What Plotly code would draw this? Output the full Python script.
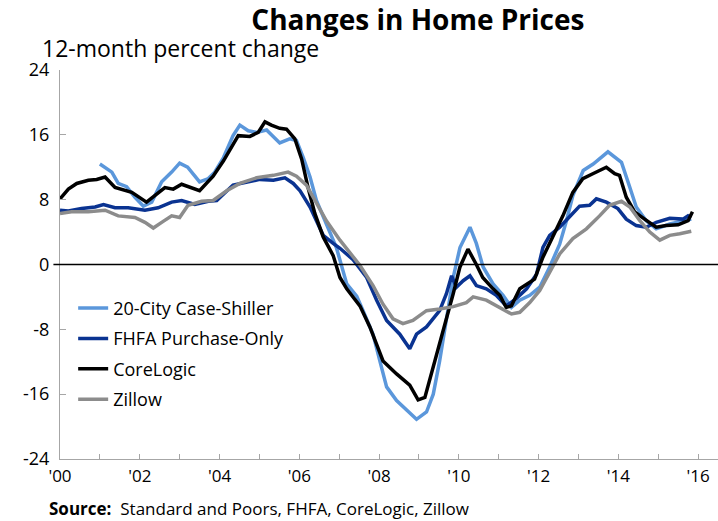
import plotly.graph_objects as go

# ---- data ----
cs_x = [2001.0, 2001.3, 2001.46, 2001.67, 2001.88, 2002.09, 2002.3, 2002.55, 2002.8, 2003.0, 2003.2, 2003.5,
        2003.72, 2003.88, 2004.1, 2004.34, 2004.51, 2004.72, 2004.93, 2005.18, 2005.51, 2005.76, 2005.93,
        2006.1, 2006.27, 2006.43, 2006.68, 2006.93, 2007.19, 2007.44, 2007.6, 2007.85, 2008.02, 2008.19,
        2008.44, 2008.69, 2008.94, 2009.19, 2009.36, 2009.52, 2009.69, 2009.86, 2010.03, 2010.28, 2010.44,
        2010.61, 2010.86, 2011.11, 2011.32, 2011.53, 2011.78, 2012.03, 2012.28, 2012.53, 2012.7, 2012.86,
        2013.12, 2013.37, 2013.74, 2014.08, 2014.29, 2014.45, 2014.7, 2014.95, 2015.29, 2015.71, 2015.83]
cs_y = [12.4, 11.4, 10.0, 9.6, 8.3, 7.2, 7.7, 10.2, 11.4, 12.5, 12.0, 10.2,
        10.6, 11.4, 13.2, 15.9, 17.2, 16.5, 16.3, 16.6, 15.0, 15.5, 15.3,
        13.2, 10.8, 7.9, 5.0, 2.1, -2.4, -3.9, -5.7, -8.6, -11.9, -15.1,
        -16.8, -18.0, -19.1, -18.2, -16.0, -11.9, -6.5, -1.6, 2.1, 4.6, 2.6,
        -0.3, -2.4, -3.8, -5.3, -4.4, -3.8, -2.8, -0.3, 2.5, 5.4, 8.5,
        11.6, 12.4, 13.9, 12.6, 9.5, 7.1, 5.4, 4.4, 5.0, 5.4, 5.6]

fhfa_x = [2000.0, 2000.21, 2000.54, 2000.88, 2001.09, 2001.38, 2001.71, 2002.13, 2002.46, 2002.8, 2003.05,
          2003.38, 2003.72, 2003.93, 2004.34, 2004.68, 2005.01, 2005.35, 2005.64, 2005.85, 2006.02, 2006.27,
          2006.43, 2006.6, 2006.85, 2007.02, 2007.35, 2007.69, 2007.94, 2008.19, 2008.52, 2008.77, 2008.94,
          2009.19, 2009.52, 2009.69, 2009.82, 2009.94, 2010.11, 2010.28, 2010.44, 2010.69, 2010.94, 2011.19,
          2011.44, 2011.7, 2011.95, 2012.11, 2012.28, 2012.53, 2012.76, 2013.03, 2013.28, 2013.45, 2013.7,
          2013.99, 2014.2, 2014.45, 2014.7, 2014.95, 2015.29, 2015.62, 2015.75, 2015.83]
fhfa_y = [6.7, 6.6, 6.9, 7.1, 7.4, 7.0, 7.0, 6.7, 7.0, 7.7, 7.9,
          7.4, 7.8, 7.9, 9.8, 10.2, 10.5, 10.4, 10.7, 10.0, 9.1, 7.1,
          5.4, 3.6, 2.6, 2.0, 0.6, -1.6, -4.4, -6.9, -8.6, -10.4, -8.6,
          -7.7, -5.7, -3.6, -1.4, -2.8, -2.0, -1.4, -2.6, -3.0, -3.8, -5.1,
          -4.2, -3.0, -1.2, 2.1, 3.6, 4.6, 5.8, 7.2, 7.3, 8.1, 7.7,
          6.9, 5.6, 4.8, 4.6, 5.2, 5.7, 5.6, 6.0, 5.8]

core_x = [2000.0, 2000.21, 2000.42, 2000.71, 2000.92, 2001.13, 2001.38, 2001.8, 2002.17, 2002.38, 2002.63,
          2002.84, 2003.05, 2003.5, 2003.84, 2004.1, 2004.34, 2004.47, 2004.76, 2004.97, 2005.14, 2005.3,
          2005.51, 2005.68, 2005.89, 2006.06, 2006.22, 2006.39, 2006.6, 2006.85, 2007.02, 2007.19, 2007.52,
          2007.77, 2008.1, 2008.44, 2008.77, 2008.98, 2009.15, 2009.36, 2009.61, 2009.86, 2010.03, 2010.23,
          2010.44, 2010.6, 2010.86, 2011.03, 2011.19, 2011.32, 2011.53, 2011.7, 2011.9, 2012.11, 2012.36,
          2012.61, 2012.86, 2013.11, 2013.36, 2013.7, 2013.91, 2014.03, 2014.2, 2014.41, 2014.66, 2014.95,
          2015.2, 2015.5, 2015.75, 2015.86]
core_y = [8.1, 9.3, 10.0, 10.4, 10.5, 10.8, 9.5, 8.9, 7.7, 8.5, 9.5,
          9.3, 9.9, 9.1, 10.9, 12.8, 14.9, 15.9, 15.8, 16.3, 17.6, 17.2,
          16.8, 16.7, 15.5, 13.0, 9.5, 6.3, 3.4, 1.1, -1.6, -3.0, -5.1,
          -7.7, -11.9, -13.5, -14.9, -16.7, -16.4, -12.7, -8.1, -3.6, -0.3, 1.9,
          0.0, -1.6, -3.0, -3.8, -5.3, -5.1, -3.0, -2.4, -1.8, 0.9, 3.4,
          6.0, 8.9, 10.6, 11.2, 12.0, 11.2, 11.0, 8.3, 6.5, 5.6, 4.6,
          4.8, 4.9, 5.4, 6.5]

zil_x = [2000.0, 2000.29, 2000.71, 2001.13, 2001.46, 2001.88, 2002.13, 2002.34, 2002.55, 2002.8, 2003.0,
         2003.21, 2003.55, 2003.84, 2004.18, 2004.51, 2004.93, 2005.35, 2005.72, 2005.93, 2006.18, 2006.43,
         2006.68, 2007.02, 2007.19, 2007.52, 2007.85, 2008.1, 2008.35, 2008.6, 2008.85, 2009.19, 2009.52,
         2009.86, 2010.19, 2010.36, 2010.69, 2011.03, 2011.32, 2011.53, 2011.78, 2012.03, 2012.28, 2012.53,
         2012.86, 2013.2, 2013.53, 2013.78, 2014.08, 2014.29, 2014.54, 2014.79, 2015.04, 2015.29, 2015.54,
         2015.83]
zil_y = [6.3, 6.5, 6.5, 6.7, 6.0, 5.8, 5.2, 4.5, 5.2, 6.0, 5.8,
         7.3, 7.8, 7.9, 9.1, 10.0, 10.7, 11.0, 11.4, 10.9, 9.8, 7.5,
         5.4, 3.0, 1.9, -0.1, -2.6, -4.9, -6.7, -7.3, -6.9, -5.7, -5.5,
         -5.2, -4.7, -4.0, -4.4, -5.3, -6.1, -5.9, -4.7, -3.2, -1.0, 1.3,
         3.2, 4.4, 6.0, 7.3, 7.8, 7.1, 5.4, 4.0, 3.0, 3.6, 3.8,
         4.1]

series_names = ["20-City Case-Shiller", "FHFA Purchase-Only", "CoreLogic", "Zillow"]
series_colors = ["#5B97DB", "#0A3391", "#000000", "#8C8C8C"]

tick_vals = [2000, 2002, 2004, 2006, 2008, 2010, 2012, 2014, 2016]
tick_text = ["'00", "'02", "'04", "'06", "'08", "'10", "'12", "'14", "'16"]
y_ticks = [-24, -16, -8, 0, 8, 16, 24]
y_text = ["-24", "-16", "-8", "0", "8", "16", "24"]

FONT = "Open Sans"

fig = go.Figure()
for i, (xs, ys, name, col) in enumerate(zip([cs_x, fhfa_x, core_x, zil_x], [cs_y, fhfa_y, core_y, zil_y],
                                            series_names, series_colors)):
    fig.add_trace(go.Scatter(x=xs, y=ys, mode="lines", name=name, legendgroup=f"g{i}",
                             line=dict(color=col, width=3.5)))

fig.add_shape(type="line", xref="paper", yref="y", x0=-0.01, x1=1, y0=0, y1=0,
              line=dict(color="#000000", width=1.5))

fig.update_layout(
    width=718, height=521,
    margin=dict(l=60, r=0, t=70, b=62),
    paper_bgcolor="white", plot_bgcolor="white",
    font=dict(family=FONT, size=17, color="#000000"),
    title=dict(text="<b>Changes in Home Prices</b>", x=0.582, xanchor="center",
               y=0.962, yanchor="middle", font=dict(size=28, family=FONT)),
    showlegend=True,
    legend=dict(x=0.02, y=0.435, xanchor="left", yanchor="top",
                bgcolor="rgba(0,0,0,0)", font=dict(size=18, family=FONT),
                itemwidth=30, tracegroupgap=4),
    xaxis=dict(range=[2000, 2016.5], tickvals=tick_vals, ticktext=tick_text,
               showgrid=False, zeroline=False, showline=True, linecolor="#A6A6A6", linewidth=1,
               ticks="inside", ticklen=5, tickcolor="#A6A6A6",
               minor=dict(dtick=1, tick0=2000, ticks="inside", ticklen=5, tickcolor="#A6A6A6"),
               tickfont=dict(size=17), ticklabelstandoff=2),
    yaxis=dict(range=[-24, 24], tickvals=y_ticks, ticktext=y_text, showgrid=False, zeroline=False,
               showline=True, linecolor="#A6A6A6", linewidth=1,
               ticks="inside", ticklen=6, tickcolor="#A6A6A6", tickfont=dict(size=18),
               ticklabelstandoff=6),
)

fig.add_annotation(text="12-month percent change", xref="paper", yref="paper",
                   x=-0.03, y=1.0, xanchor="left", yanchor="bottom", yshift=4,
                   showarrow=False, font=dict(size=23, family=FONT))
fig.add_annotation(text="<b>Source:</b>  Standard and Poors, FHFA, CoreLogic, Zillow",
                   xref="paper", yref="paper", x=-0.02, y=0, yshift=-49,
                   xanchor="left", yanchor="middle", showarrow=False,
                   font=dict(size=17, family=FONT))

fig.write_html("out.html", config={"displayModeBar": False},
               post_script="document.body.style.margin='0';")
